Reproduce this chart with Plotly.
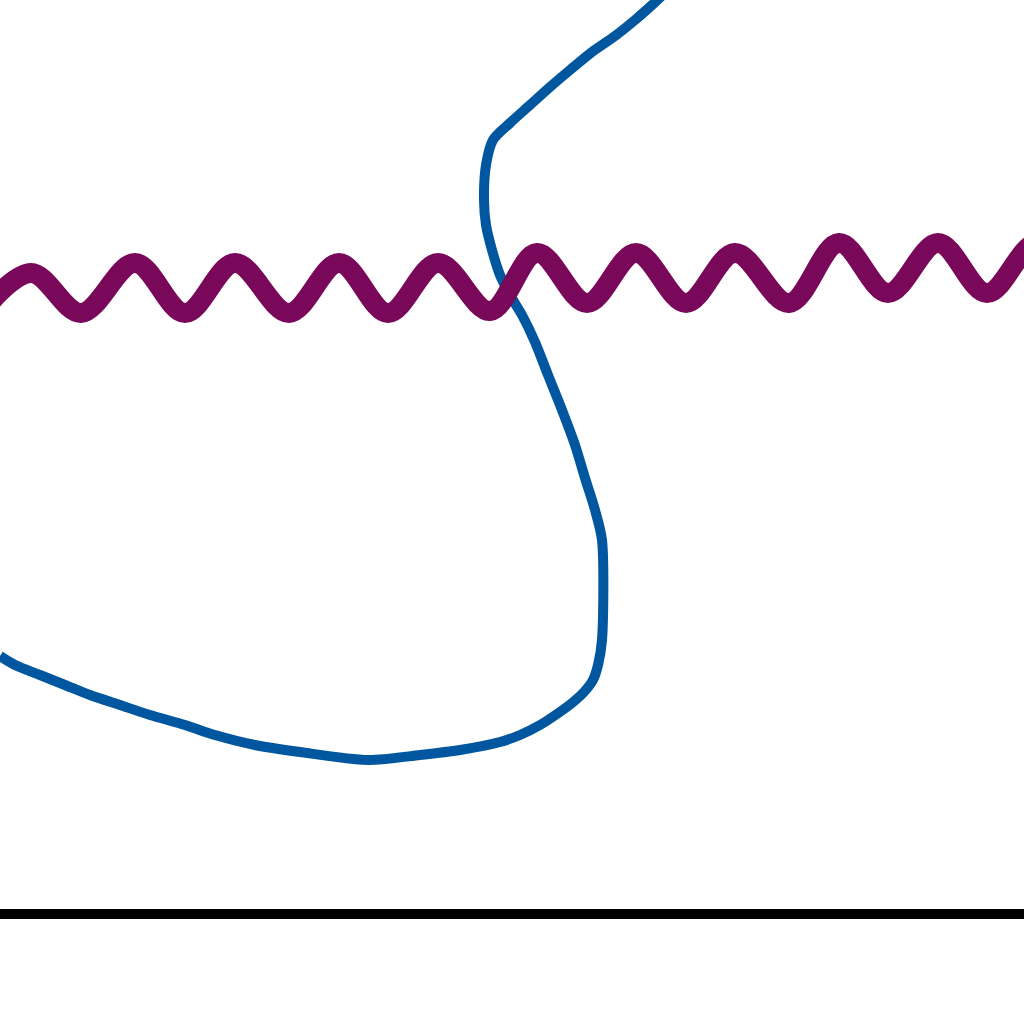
import plotly.graph_objects as go

# Blue curve (x, depth from top of plot area)
blue_x = [0, 15, 40, 65, 90, 120, 150, 185, 215, 255, 300, 368, 420, 460, 500, 520, 540,
          557, 572, 584, 593, 598, 602, 602, 595, 585, 575, 562, 548, 535, 522, 510,
          500, 492, 486, 484, 486, 493, 510, 530, 550, 570, 592, 615, 635, 652, 668]
blue_y = [656, 665, 675, 685, 695, 705, 715, 725, 735, 745, 752, 760, 755, 750, 742, 735, 725,
          714, 703, 692, 680, 665, 640, 540, 510, 478, 445, 410, 375, 342, 315, 295,
          275, 250, 225, 200, 165, 140, 123, 105, 87, 70, 52, 36, 20, 5, -10]

# Purple wave: crests and troughs
purple_x = [-19, 31, 81, 135, 185, 235, 289, 339, 388, 438, 490, 537, 587, 636, 686,
            735, 789, 839, 888, 938, 987, 1037, 1087]
purple_y = [313, 273, 313, 263, 313, 263, 313, 263, 313, 263, 311, 253, 303, 253, 303,
            253, 303, 243, 293, 243, 293, 243, 293]

fig = go.Figure()
fig.add_trace(go.Scatter(x=blue_x, y=blue_y, mode="lines",
                         line=dict(color="#00579F", width=10, shape="spline", smoothing=0.8),
                         hoverinfo="skip", showlegend=False))
fig.add_trace(go.Scatter(x=purple_x, y=purple_y, mode="lines",
                         line=dict(color="#7A085A", width=20, shape="spline", smoothing=1.0),
                         hoverinfo="skip", showlegend=False))

fig.update_layout(
    width=1024, height=1024,
    margin=dict(l=0, r=0, t=0, b=115),
    paper_bgcolor="white", plot_bgcolor="white",
    xaxis=dict(range=[0, 1024], showgrid=False, zeroline=False, showticklabels=False,
               ticks="", showline=True, linecolor="black", linewidth=10, fixedrange=True),
    yaxis=dict(range=[909, 0], showgrid=False, zeroline=False, showticklabels=False,
               ticks="", showline=False, fixedrange=True),
)
fig.write_html("out.html", config={"displayModeBar": False},
               post_script="document.body.style.margin='0';document.body.style.overflow='hidden';")
